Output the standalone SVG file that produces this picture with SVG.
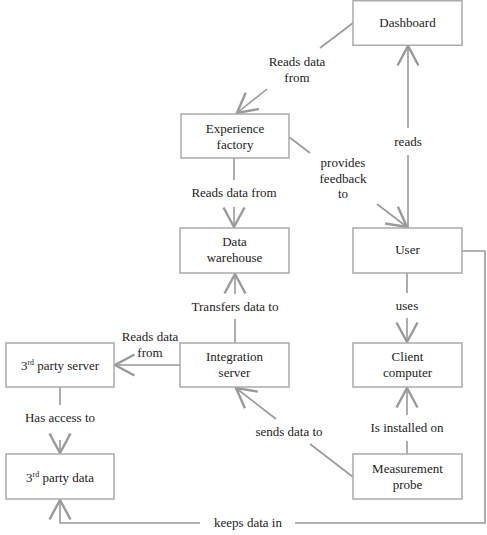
<svg xmlns="http://www.w3.org/2000/svg" width="487" height="535" viewBox="0 0 487 535" font-family="Liberation Serif, Times New Roman, serif">
<defs>
<marker id="arr" markerUnits="userSpaceOnUse" markerWidth="30" markerHeight="30" viewBox="-15 -10 20 20" refX="0" refY="0" orient="auto" overflow="visible">
<path d="M-13,-7 L0,0 L-13,7" fill="none" stroke="#999" stroke-width="1.6"/>
</marker>
</defs>
<style>
rect{fill:#fff;stroke:#aaa;stroke-width:1.5}
text{font-size:13px;fill:#222;text-anchor:middle}
.c path,.c line,.c polyline{fill:none;stroke:#999;stroke-width:1.6}
.sup{font-size:8px}
</style>
<rect x="0" y="0" width="487" height="535" style="fill:#fff;stroke:none"/>
<g class="c" id="connectors">
<line x1="353" y1="23" x2="320" y2="48"/>
<line x1="267" y1="89" x2="237" y2="113" marker-end="url(#arr)"/>
<line x1="289" y1="137" x2="310" y2="153"/>
<line x1="377" y1="204" x2="407" y2="227" marker-end="url(#arr)"/>
<line x1="408" y1="228" x2="408" y2="155"/>
<line x1="408" y1="128" x2="408" y2="46" marker-end="url(#arr)"/>
<line x1="234" y1="158" x2="234" y2="180"/>
<line x1="234" y1="207" x2="234" y2="227" marker-end="url(#arr)"/>
<line x1="235" y1="343" x2="235" y2="319"/>
<line x1="235" y1="294" x2="235" y2="274" marker-end="url(#arr)"/>
<line x1="180" y1="365" x2="115" y2="365" marker-end="url(#arr)"/>
<line x1="60" y1="387" x2="60" y2="405"/>
<line x1="60" y1="440" x2="60" y2="453" marker-end="url(#arr)"/>
<line x1="407" y1="273" x2="407" y2="293"/>
<line x1="407" y1="318" x2="407" y2="342" marker-end="url(#arr)"/>
<line x1="407" y1="454" x2="407" y2="441"/>
<line x1="407" y1="415" x2="407" y2="388" marker-end="url(#arr)"/>
<line x1="353" y1="477" x2="310" y2="444"/>
<line x1="276" y1="419" x2="236" y2="388" marker-end="url(#arr)"/>
<polyline points="462,251 485,251 485,523 295,523"/>
<polyline points="200,523 60,523 60,500" marker-end="url(#arr)"/>
<text x="297" y="66">Reads data</text>
<text x="297" y="82">from</text>
<text x="343" y="167">provides</text>
<text x="343" y="183">feedback</text>
<text x="343" y="198">to</text>
<text x="408" y="146">reads</text>
<text x="234" y="197">Reads data from</text>
<text x="235" y="311">Transfers data to</text>
<text x="150" y="341">Reads data</text>
<text x="150" y="357">from</text>
<text x="60" y="422">Has access to</text>
<text x="407" y="310">uses</text>
<text x="407" y="432">Is installed on</text>
<text x="289" y="436">sends data to</text>
<text x="248" y="527">keeps data in</text>
</g>
<g id="dashboard"><rect x="353" y="0.75" width="109" height="44.5"/><text x="407.5" y="27">Dashboard</text></g>
<g id="experience-factory"><rect x="181" y="114" width="108" height="44"/><text x="235" y="133">Experience</text><text x="235" y="149">factory</text></g>
<g id="data-warehouse"><rect x="180" y="228" width="109" height="45"/><text x="234.5" y="246">Data</text><text x="234.5" y="262">warehouse</text></g>
<g id="user"><rect x="353" y="228" width="109" height="45"/><text x="407.5" y="254">User</text></g>
<g id="third-party-server"><rect x="6" y="343" width="108" height="44"/><text x="60" y="370">3<tspan class="sup" dy="-5">rd</tspan><tspan dy="5"> party server</tspan></text></g>
<g id="integration-server"><rect x="180" y="343" width="109" height="44"/><text x="234.5" y="361">Integration</text><text x="234.5" y="377">server</text></g>
<g id="client-computer"><rect x="353" y="343" width="109" height="44"/><text x="407.5" y="361">Client</text><text x="407.5" y="377">computer</text></g>
<g id="third-party-data"><rect x="6" y="454" width="108" height="45"/><text x="60" y="482">3<tspan class="sup" dy="-5">rd</tspan><tspan dy="5"> party data</tspan></text></g>
<g id="measurement-probe"><rect x="353" y="454" width="109" height="45"/><text x="407.5" y="473">Measurement</text><text x="407.5" y="489">probe</text></g>
</svg>
